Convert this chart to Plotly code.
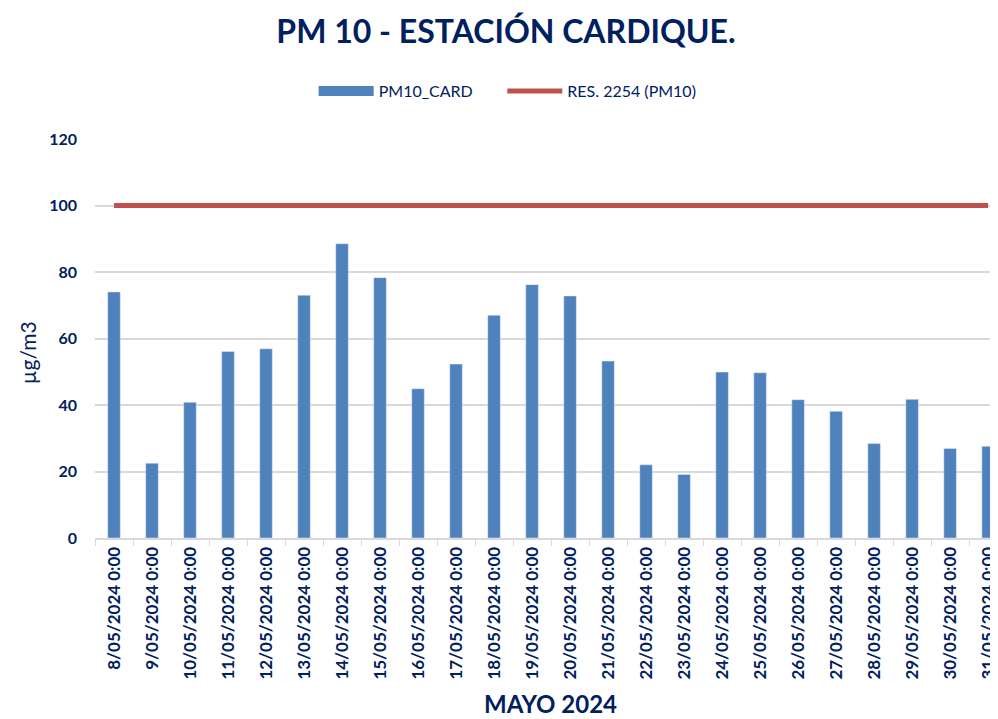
import plotly.graph_objects as go

dates = ["8/05/2024 0:00", "9/05/2024 0:00", "10/05/2024 0:00", "11/05/2024 0:00",
         "12/05/2024 0:00", "13/05/2024 0:00", "14/05/2024 0:00", "15/05/2024 0:00",
         "16/05/2024 0:00", "17/05/2024 0:00", "18/05/2024 0:00", "19/05/2024 0:00",
         "20/05/2024 0:00", "21/05/2024 0:00", "22/05/2024 0:00", "23/05/2024 0:00",
         "24/05/2024 0:00", "25/05/2024 0:00", "26/05/2024 0:00", "27/05/2024 0:00",
         "28/05/2024 0:00", "29/05/2024 0:00", "30/05/2024 0:00", "31/05/2024 0:00"]
pm10_card = [74.0, 22.5, 40.8, 56.1, 56.9, 73.0, 88.5, 78.3, 44.9, 52.3, 67.0, 76.2,
             72.8, 53.2, 22.0, 19.1, 49.9, 49.7, 41.6, 38.1, 28.4, 41.7, 26.9, 27.6]
res_2254 = [100] * len(dates)

BLUE = "#4F81BD"
RED = "#C0504D"
NAVY = "#002060"
FONT = "Lato"

fig = go.Figure()
fig.add_trace(go.Bar(x=dates, y=pm10_card, name="PM10_CARD", marker_color=BLUE,
                     width=0.33, showlegend=False))
# legend swatch for bars (wide rectangle like the original)
fig.add_trace(go.Scatter(x=[None], y=[None], mode="lines",
                         name="PM10_CARD" + "\u00a0" * 6,
                         line=dict(color=BLUE, width=12)))
fig.add_trace(go.Scatter(x=dates, y=res_2254, mode="lines", name="RES. 2254 (PM10)",
                         line=dict(color=RED, width=5)))

fig.update_layout(
    width=990, height=711,
    margin=dict(l=87, r=0, t=131, b=181, autoexpand=False),
    paper_bgcolor="white", plot_bgcolor="white",
    font=dict(family=FONT, color=NAVY),
    title=dict(text="<b>PM 10 - ESTACIÓN CARDIQUE.</b>", x=0.503, xanchor="center",
               y=0.967, yanchor="middle", font=dict(size=32, color=NAVY, family=FONT)),
    legend=dict(orientation="h", x=0.457, xanchor="center", y=1.12, yanchor="middle",
                font=dict(size=16, color=NAVY, family=FONT), itemwidth=55,
                traceorder="normal"),
    showlegend=True,
    annotations=[
        dict(text="<b>MAYO 2024</b>", xref="paper", yref="paper", x=0.504, y=-0.416,
             xanchor="center", yanchor="middle", showarrow=False,
             font=dict(size=24, color=NAVY, family=FONT)),
        dict(text="µg/m3", xref="paper", yref="paper", x=-0.074, y=0.4637,
             xanchor="center", yanchor="middle", showarrow=False, textangle=-90,
             font=dict(size=21, color=NAVY, family=FONT)),
    ],
)
fig.update_xaxes(type="category", range=[-0.5, 23.26], tickangle=-90, automargin=False,
                 tickfont=dict(size=17, color=NAVY, family=FONT),
                 tickprefix="<b>", ticksuffix="</b>",
                 ticks="outside", tickson="boundaries", ticklen=6, tickcolor="#D9D9D9",
                 showline=True, linecolor="#D9D9D9", linewidth=2, showgrid=False)
fig.update_yaxes(range=[0, 120], dtick=20, showgrid=True, gridcolor="#D9D9D9", gridwidth=2,
                 zeroline=False, showline=False, automargin=False,
                 tickfont=dict(size=16, color=NAVY, family=FONT),
                 tickprefix="<b>", ticksuffix="</b>", ticks="", ticklabelstandoff=17)

fig.write_html("out.html")
